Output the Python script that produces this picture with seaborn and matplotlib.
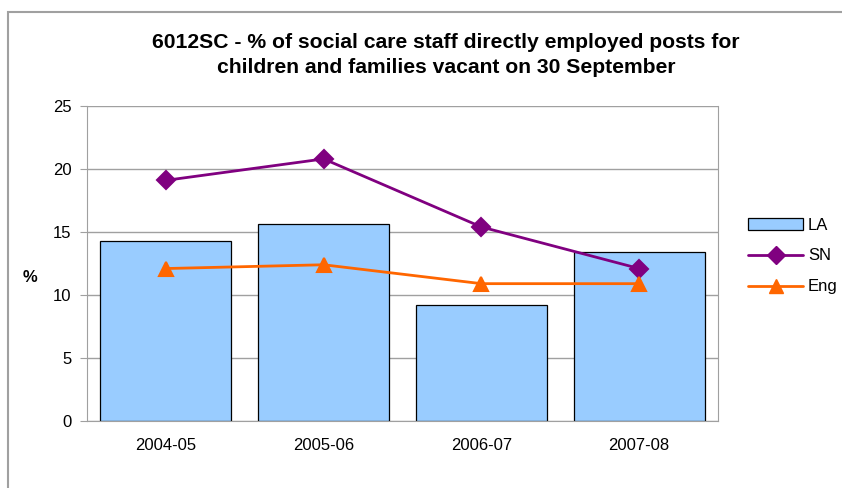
import numpy as np
import pandas as pd
import matplotlib
matplotlib.use("Agg")
import matplotlib.pyplot as plt
import seaborn as sns
from matplotlib.patches import Rectangle
from matplotlib.lines import Line2D

years = ["2004-05", "2005-06", "2006-07", "2007-08"]
la = [14.3, 15.6, 9.2, 13.4]
sn = [19.1, 20.8, 15.4, 12.1]
eng = [12.1, 12.4, 10.9, 10.9]

sns.set_style("white")
plt.rcParams['font.family'] = ['Liberation Sans', 'DejaVu Sans']
plt.rcParams['text.color'] = 'black'
plt.rcParams['xtick.color'] = 'black'
plt.rcParams['ytick.color'] = 'black'

fig = plt.figure(figsize=(8.42, 4.88), dpi=100)
ax = fig.add_axes([87 / 842, 1 - 421 / 488, (718 - 87) / 842, (421 - 106) / 488])

# outer chart border
fig.patches.append(Rectangle((8 / 842, -0.1), 1.2, 1 - 12 / 488 + 0.1, transform=fig.transFigure,
                             fill=False, edgecolor="#a0a0a0", linewidth=1.5))

df = pd.DataFrame({"year": years, "LA": la, "SN": sn, "Eng": eng})

sns.barplot(data=df, x="year", y="LA", color="#99ccff", saturation=1, width=0.83,
            edgecolor="black", linewidth=0.9, ax=ax, zorder=2)
sns.pointplot(data=df, x="year", y="SN", color="#800080", marker="D", markersize=9,
              linewidth=2, ax=ax, zorder=4)
sns.pointplot(data=df, x="year", y="Eng", color="#ff6600", marker="^", markersize=10,
              linewidth=2, ax=ax, zorder=4)

ax.set_ylim(0, 25)
ax.set_xlim(-0.5, 3.5)
ax.set_yticks([0, 5, 10, 15, 20, 25])
ax.yaxis.grid(True, color="#a0a0a0", linewidth=1)
ax.set_axisbelow(True)
for s in ax.spines.values():
    s.set_color("#a0a0a0")
    s.set_visible(True)
ax.spines["top"].set_visible(False)
ax.set_xticks([-0.5, 0.5, 1.5, 2.5, 3.5], minor=True)
ax.tick_params(axis="x", which="major", length=0, pad=12, labelsize=12)
ax.tick_params(axis="x", which="minor", length=5, color="#a0a0a0", direction="out")
ax.tick_params(axis="y", length=5, color="#a0a0a0", direction="out", labelsize=12, left=True, pad=6)
ax.set_xlabel("")
ax.set_ylabel("")
fig.text(30 / 842, 1 - 278 / 488, "%", ha="center", va="center", fontsize=12, fontweight="bold")

fig.text(446 / 842, 1 - 55 / 488,
         "6012SC - % of social care staff directly employed posts for\nchildren and families vacant on 30 September",
         ha="center", va="center", fontsize=15.2, fontweight="bold", linespacing=1.45)

handles = [Rectangle((0, 0), 1, 1, facecolor="#99ccff", edgecolor="black", linewidth=0.9),
           Line2D([], [], color="#800080", marker="D", markersize=9, linewidth=2),
           Line2D([], [], color="#ff6600", marker="^", markersize=10, linewidth=2)]
fig.legend(handles, ["LA", "SN", "Eng"], loc="center left", bbox_to_anchor=(733 / 842, 1 - 256 / 488),
           frameon=False, fontsize=12, handlelength=3.3, labelspacing=0.95, handletextpad=0.3)

fig.savefig("out.png", dpi=100)
